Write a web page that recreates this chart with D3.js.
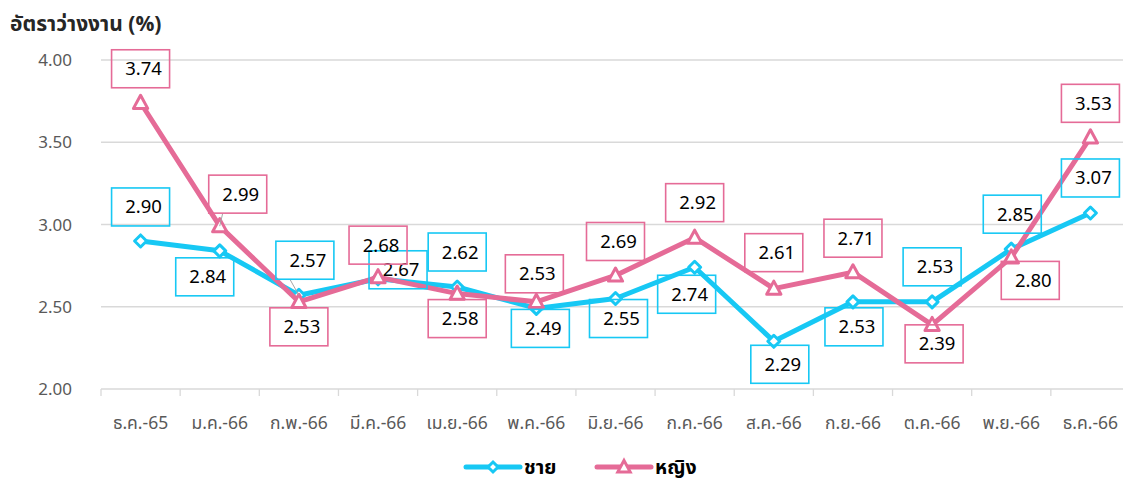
<!DOCTYPE html>
<html>
<head>
<meta charset="utf-8">
<script src="https://cdn.jsdelivr.net/npm/d3@7"></script>
<style>
  html, body { margin: 0; padding: 0; background: #fff; }
  svg { display: block; font-family: Tahoma, "Noto Sans Thai", "Noto Sans", "DejaVu Sans", sans-serif; }
</style>
</head>
<body>
<svg id="chart" width="1123" height="482"></svg>
<script>
// Monthly unemployment rate (%), Dec 2022 – Dec 2023
const months = ["ธ.ค.-65", "ม.ค.-66", "ก.พ.-66", "มี.ค.-66", "เม.ย.-66", "พ.ค.-66", "มิ.ย.-66",
                "ก.ค.-66", "ส.ค.-66", "ก.ย.-66", "ต.ค.-66", "พ.ย.-66", "ธ.ค.-66"];
const male   = [2.90, 2.84, 2.57, 2.67, 2.62, 2.49, 2.55, 2.74, 2.29, 2.53, 2.53, 2.85, 3.07];
const female = [3.74, 2.99, 2.53, 2.68, 2.58, 2.53, 2.69, 2.92, 2.61, 2.71, 2.39, 2.80, 3.53];
const yTicks = [2.00, 2.50, 3.00, 3.50, 4.00];
const seriesNames = ["ชาย", "หญิง"];

// Label box placement relative to each point (pixels)
const maleLabelOffset = [[0,-34],[-15,26],[6,-35],[20,-9],[0,-35],[4,20],[3,20],[-8,27],[6,23],[1,25],[0,-35],[1,-35],[0,-35]];
const femaleLabelOffset = [[0,-34],[18,-32],[0,25],[0,-32],[0,25],[-2,-28],[0,-34],[0,-35],[0,-36],[0,-34],[2,19],[19,23],[0,-34]];
const leaderLines = { male: [2], female: [1] };

const colors = { male: "#17C8F4", female: "#E56B97" };

const svg = d3.select("#chart");
const x = d3.scaleBand().domain(months).range([101, 1130]);
const y = d3.scaleLinear().domain([2, 4]).range([389, 60]);
const cx = m => x(m) + x.bandwidth() / 2;

// Title
svg.append("text")
  .attr("x", 10).attr("y", 31)
  .attr("font-size", 21).attr("font-weight", "bold").attr("fill", "#262626")
  .text("อัตราว่างงาน (%)");

// Gridlines
svg.append("g").selectAll("line")
  .data(yTicks.filter(t => t > 2))
  .join("line")
  .attr("x1", 101).attr("x2", 1130)
  .attr("y1", d => y(d)).attr("y2", d => y(d))
  .attr("stroke", "#D9D9D9").attr("stroke-width", 1.3);

// Y axis labels
svg.append("g").selectAll("text")
  .data(yTicks)
  .join("text")
  .attr("x", 72).attr("y", d => y(d) + 6)
  .attr("text-anchor", "end")
  .attr("font-size", 17).attr("fill", "#595959")
  .text(d => d.toFixed(2));

// X axis
const xAxis = svg.append("g")
  .attr("transform", "translate(0,389)")
  .call(d3.axisBottom(x).tickSize(0).tickPadding(0));
xAxis.select(".domain").remove();
xAxis.selectAll("text").remove();
xAxis.append("line").attr("x1", 101).attr("x2", 1130).attr("y1", 0).attr("y2", 0)
  .attr("stroke", "#D9D9D9").attr("stroke-width", 1.3);
xAxis.selectAll("line.cat-tick")
  .data(months.map(m => x(m)).concat([1130]))
  .join("line").attr("class", "cat-tick")
  .attr("x1", d => d).attr("x2", d => d).attr("y1", 0).attr("y2", 7)
  .attr("stroke", "#D9D9D9").attr("stroke-width", 1.3);
svg.append("g").selectAll("text")
  .data(months)
  .join("text")
  .attr("x", d => cx(d)).attr("y", 429)
  .attr("text-anchor", "middle")
  .attr("font-size", 17.5).attr("fill", "#595959")
  .text(d => d);

const line = d3.line().x((d, i) => cx(months[i])).y(d => y(d));

function diamondPath(s) { return `M0,${-s}L${s},0L0,${s}L${-s},0Z`; }
function trianglePath(s) { return `M0,${-s}L${s * 0.95},${s * 0.75}L${-s * 0.95},${s * 0.75}Z`; }

function drawSeries(values, color, shape) {
  svg.append("path").datum(values)
    .attr("d", line).attr("fill", "none")
    .attr("stroke", color).attr("stroke-width", 5).attr("stroke-linejoin", "round");
  svg.append("g").selectAll("path")
    .data(values)
    .join("path")
    .attr("transform", (d, i) => `translate(${cx(months[i])},${y(d)})`)
    .attr("d", shape)
    .attr("fill", "#fff").attr("stroke", color).attr("stroke-width", 3)
    .attr("stroke-linejoin", "round");
}

drawSeries(male, colors.male, diamondPath(6));
drawSeries(female, colors.female, trianglePath(7.5));

// Data labels
const boxW = 58, boxH = 38;
function drawLabels(values, offsets, color, leaders) {
  const g = svg.append("g");
  values.forEach((v, i) => {
    const px = cx(months[i]), py = y(v);
    const bx = px + offsets[i][0], by = py + offsets[i][1];
    if (leaders.includes(i)) {
      const ex = offsets[i][0] > 0 ? bx - boxW / 2 + 14 : bx;
      const ey = offsets[i][1] < 0 ? by + boxH / 2 : by - boxH / 2;
      g.append("line").attr("x1", px).attr("y1", py).attr("x2", ex).attr("y2", ey)
        .attr("stroke", "#A6A6A6").attr("stroke-width", 1);
    }
    g.append("rect")
      .attr("x", bx - boxW / 2).attr("y", by - boxH / 2)
      .attr("width", boxW).attr("height", boxH)
      .attr("fill", "none").attr("stroke", color).attr("stroke-width", 1.6);
    g.append("text")
      .attr("x", bx + 3).attr("y", by + 6.5)
      .attr("text-anchor", "middle")
      .attr("font-size", 18.5).attr("fill", "#000")
      .text(v.toFixed(2));
  });
}
drawLabels(male, maleLabelOffset, colors.male, leaderLines.male);
drawLabels(female, femaleLabelOffset, colors.female, leaderLines.female);

// Legend
const legend = svg.append("g").attr("transform", "translate(0,467)");
const legendItems = [
  { name: seriesNames[0], color: colors.male, shape: diamondPath(5), x0: 466 },
  { name: seriesNames[1], color: colors.female, shape: trianglePath(6.5), x0: 597 }
];
legendItems.forEach(it => {
  legend.append("line").attr("x1", it.x0).attr("x2", it.x0 + 54).attr("y1", 0).attr("y2", 0)
    .attr("stroke", it.color).attr("stroke-width", 5).attr("stroke-linecap", "round");
  legend.append("path").attr("transform", `translate(${it.x0 + 27},0)`)
    .attr("d", it.shape).attr("fill", "#fff").attr("stroke", it.color).attr("stroke-width", 3);
  legend.append("text").attr("x", it.x0 + 58).attr("y", 7)
    .attr("font-size", 19.5).attr("font-weight", "bold").attr("fill", "#000")
    .text(it.name);
});
</script>
</body>
</html>
